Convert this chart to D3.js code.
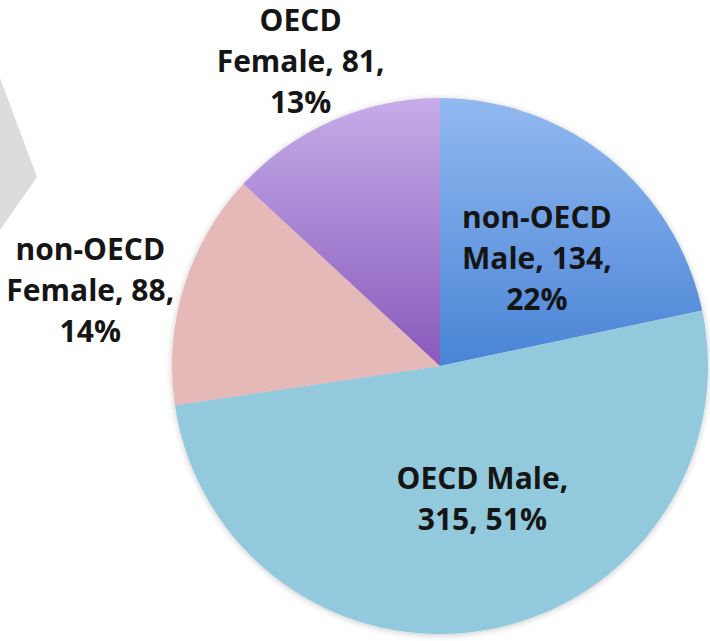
<!DOCTYPE html>
<html>
<head>
<meta charset="utf-8">
<script src="https://cdn.jsdelivr.net/npm/d3@7"></script>
<style>
  html, body { margin: 0; padding: 0; background: #fff; }
  svg { display: block; }
  .slice-label { font-family: "Open Sans", Lato, sans-serif; font-weight: 700; fill: #151515; }
</style>
</head>
<body>
<div id="chart"></div>
<script>
// Slices, clockwise from 12 o'clock
const categories = ["non-OECD Male", "OECD Male", "non-OECD Female", "OECD Female"];
const values = [134, 315, 88, 81];
// label lines before the value/percent part
const labelHeads = [["non-OECD", "Male,"], ["OECD Male,"], ["non-OECD", "Female,"], ["OECD", "Female,"]];

const width = 710, height = 641;
const cx = 440, cy = 366, radius = 268;

const svg = d3.select("#chart").append("svg")
    .attr("width", width)
    .attr("height", height);

const defs = svg.append("defs");

// soft shadow round the pie
const shadow = defs.append("filter").attr("id", "pieShadow")
    .attr("x", "-10%").attr("y", "-10%").attr("width", "120%").attr("height", "120%");
shadow.append("feDropShadow")
    .attr("dx", 0).attr("dy", 1)
    .attr("stdDeviation", 3)
    .attr("flood-color", "#000")
    .attr("flood-opacity", 0.22);

// vertical gradients in the pie group's own coordinates (centre at 0,0)
function vGradient(id, top, bottom) {
  const g = defs.append("linearGradient").attr("id", id)
      .attr("gradientUnits", "userSpaceOnUse")
      .attr("x1", 0).attr("x2", 0)
      .attr("y1", -radius).attr("y2", 0);
  g.append("stop").attr("offset", "0%").attr("stop-color", top);
  g.append("stop").attr("offset", "100%").attr("stop-color", bottom);
}
vGradient("gradBlue", "#92b9f0", "#4984d6");
vGradient("gradPurple", "#c6ace8", "#8759bc");

const fills = ["url(#gradBlue)", "#93c9dc", "#e5b9b8", "url(#gradPurple)"];

// grey chevron peeking in at the left edge (slide decoration)
svg.append("path")
    .attr("d", d3.line()([[0, 78], [37, 177], [0, 230]]) + "Z")
    .attr("fill", "#dcdcdc");

const pie = d3.pie().sort(null).value(d => d);
const arcs = pie(values);
const total = d3.sum(values);

const arc = d3.arc().innerRadius(0).outerRadius(radius);

const g = svg.append("g").attr("transform", `translate(${cx},${cy})`);

g.append("g")
    .attr("filter", "url(#pieShadow)")
  .selectAll("path")
  .data(arcs)
  .enter()
  .append("path")
    .attr("d", arc)
    .attr("fill", (d, i) => fills[i]);

// label placement: distance (fraction of radius) and angle nudge in degrees
const labelPlace = [
  { k: 0.54, da: 3 },
  { k: 0.52, da: -7.5 },
  { k: 1.335, da: -5 },
  { k: 1.25, da: -1 }
];

const fmtPct = d3.format(".0%");

arcs.forEach((d, i) => {
  const mid = (d.startAngle + d.endAngle) / 2 + labelPlace[i].da * Math.PI / 180;
  const r = radius * labelPlace[i].k;
  const x = r * Math.sin(mid);
  const y = -r * Math.cos(mid);
  const pct = fmtPct(d.value / total);

  let lines;
  if (i === 1) lines = [labelHeads[i][0], `${d.value}, ${pct}`];
  else lines = [labelHeads[i][0], `${labelHeads[i][1]} ${d.value},`, pct];

  const lh = 41;
  const t = g.append("text")
      .attr("class", "slice-label")
      .attr("text-anchor", "middle")
      .attr("font-size", 30)
      .attr("x", x)
      .attr("y", y - (lines.length - 1) * lh / 2);
  lines.forEach((s, j) => {
    t.append("tspan")
      .attr("x", x)
      .attr("dy", j === 0 ? "0.35em" : lh)
      .text(s);
  });
});
</script>
</body>
</html>
